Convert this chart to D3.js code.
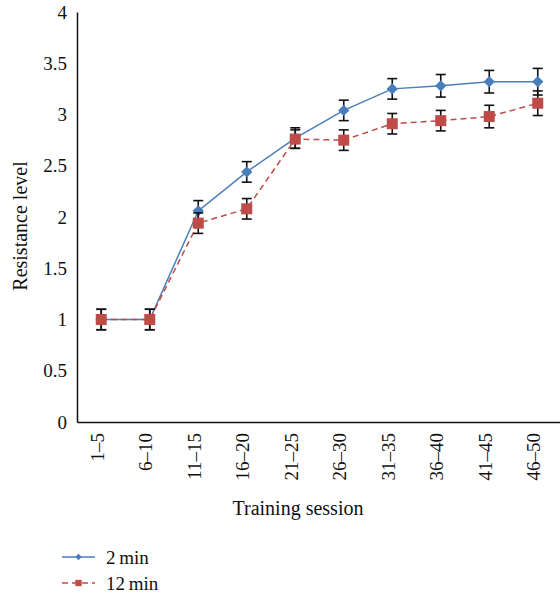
<!DOCTYPE html>
<html>
<head>
<meta charset="utf-8">
<script src="https://cdn.jsdelivr.net/npm/d3@7"></script>
<style>
  body { margin: 0; background: #fff; }
  svg text { font-family: "Liberation Serif", "Times New Roman", "DejaVu Serif", serif !important; fill: #111; }
</style>
</head>
<body>
<div id="chart"></div>
<script>
// data
var sessions = ["1\u20135", "6\u201310", "11\u201315", "16\u201320", "21\u201325",
                "26\u201330", "31\u201335", "36\u201340", "41\u201345", "46\u201350"];
var min2 = [1.0, 1.0, 2.06, 2.44, 2.77, 3.04, 3.25, 3.28, 3.32, 3.32];
var min2Err = [0.1, 0.1, 0.1, 0.1, 0.1, 0.1, 0.1, 0.11, 0.11, 0.13];
var min12 = [1.0, 1.0, 1.94, 2.08, 2.76, 2.75, 2.91, 2.94, 2.98, 3.11];
var min12Err = [0.1, 0.1, 0.1, 0.1, 0.09, 0.1, 0.1, 0.1, 0.11, 0.12];
var yTicks = [0, 0.5, 1, 1.5, 2, 2.5, 3, 3.5, 4];

var W = 560, H = 600;
var margin = {top: 12, left: 77, right: -2, bottom: 178};
var serif = "'Liberation Serif', 'Times New Roman', serif";

var svg = d3.select("#chart").append("svg")
    .attr("width", W)
    .attr("height", H);

var x = d3.scalePoint()
    .domain(sessions)
    .range([margin.left, W - margin.right])
    .padding(0.5);

var y = d3.scaleLinear()
    .domain([0, 4])
    .range([H - margin.bottom, margin.top]);

// y axis
var yAxis = svg.append("g")
    .attr("transform", "translate(" + margin.left + ",0)")
    .call(d3.axisLeft(y).tickValues(yTicks).tickSize(0).tickPadding(10)
        .tickFormat(function (d) { return d; }));
yAxis.attr("font-family", serif).attr("font-size", 19);
yAxis.select(".domain").attr("stroke", "#111").attr("stroke-width", 1.5);

// x axis
var xAxis = svg.append("g")
    .attr("transform", "translate(0," + y(0) + ")")
    .call(d3.axisBottom(x).tickSize(0).tickPadding(0));
xAxis.attr("font-family", serif).attr("font-size", 19);
xAxis.select(".domain").attr("stroke", "#111").attr("stroke-width", 1.5);
xAxis.selectAll("text")
    .attr("transform", "rotate(-90)")
    .attr("text-anchor", "end")
    .attr("x", -11)
    .attr("y", 0)
    .attr("dy", "0.1em");

// axis titles
svg.append("text")
    .attr("transform", "translate(27,226) rotate(-90)")
    .attr("text-anchor", "middle")
    .attr("font-family", serif)
    .attr("font-size", 20)
    .text("Resistance level");

svg.append("text")
    .attr("x", 298)
    .attr("y", 515)
    .attr("text-anchor", "middle")
    .attr("font-family", serif)
    .attr("font-size", 20)
    .text("Training session");

var series = [
    {name: "2\u2009min", values: min2, err: min2Err, color: "#4a7ebb", dash: null, diamond: true},
    {name: "12\u2009min", values: min12, err: min12Err, color: "#be4b48", dash: "6,4", diamond: false}
];

var line = d3.line()
    .x(function (d, i) { return x(sessions[i]); })
    .y(function (d) { return y(d); });

series.forEach(function (s) {
    var g = svg.append("g");

    g.append("path")
        .datum(s.values)
        .attr("d", line)
        .attr("fill", "none")
        .attr("stroke", s.color)
        .attr("stroke-width", 1.5)
        .attr("stroke-dasharray", s.dash);

    // error bars
    var eb = g.selectAll(".err")
        .data(s.values)
        .enter().append("g")
        .attr("stroke", "#111")
        .attr("stroke-width", 1.6);
    eb.append("line")
        .attr("x1", function (d, i) { return x(sessions[i]); })
        .attr("x2", function (d, i) { return x(sessions[i]); })
        .attr("y1", function (d, i) { return y(d + s.err[i]); })
        .attr("y2", function (d, i) { return y(d - s.err[i]); });
    [1, -1].forEach(function (sign) {
        eb.append("line")
            .attr("x1", function (d, i) { return x(sessions[i]) - 5; })
            .attr("x2", function (d, i) { return x(sessions[i]) + 5; })
            .attr("y1", function (d, i) { return y(d + sign * s.err[i]); })
            .attr("y2", function (d, i) { return y(d + sign * s.err[i]); });
    });

    g.selectAll(".mark")
        .data(s.values)
        .enter().append("path")
        .attr("d", d3.symbol().type(d3.symbolSquare).size(s.diamond ? 64 : 121))
        .attr("transform", function (d, i) {
            return "translate(" + x(sessions[i]) + "," + y(d) + ")" + (s.diamond ? " rotate(45)" : "");
        })
        .attr("fill", s.color);
});

// legend
var legend = svg.append("g");
series.forEach(function (s, i) {
    var ly = 557 + i * 26;
    legend.append("line")
        .attr("x1", 62).attr("x2", 95)
        .attr("y1", ly).attr("y2", ly)
        .attr("stroke", s.color)
        .attr("stroke-width", 1.5)
        .attr("stroke-dasharray", s.dash);
    legend.append("path")
        .attr("d", d3.symbol().type(d3.symbolSquare).size(s.diamond ? 20 : 40))
        .attr("transform", "translate(78.5," + ly + ")" + (s.diamond ? " rotate(45)" : ""))
        .attr("fill", s.color);
    legend.append("text")
        .attr("x", 106)
        .attr("y", ly)
        .attr("dy", "0.35em")
        .attr("font-family", serif)
        .attr("font-size", 19)
        .text(s.name);
});
</script>
</body>
</html>
